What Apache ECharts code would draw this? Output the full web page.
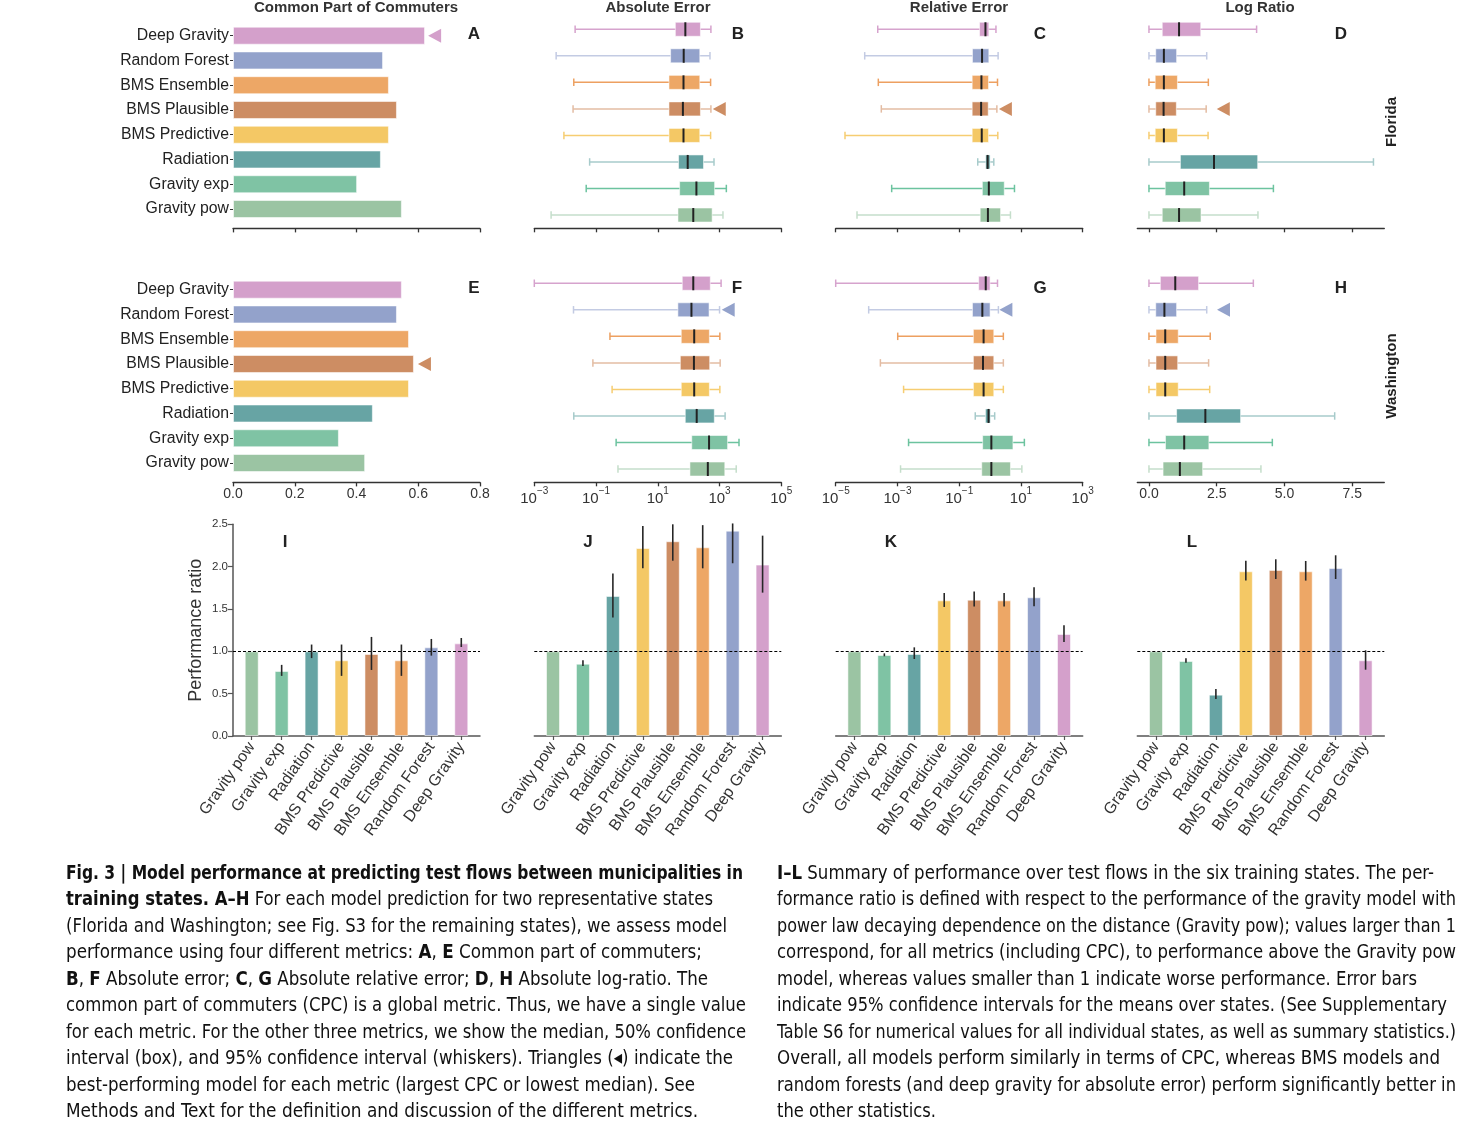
<!DOCTYPE html>
<html><head><meta charset="utf-8">
<script src="https://cdn.jsdelivr.net/npm/echarts@6/dist/echarts.min.js"></script>
<style>html,body{margin:0;padding:0;background:#fff}#c{width:1474px;height:1132px}</style>
</head><body><div id="c"></div>
<script>
// ---------------- DATA ----------------
const models = ['Deep Gravity','Random Forest','BMS Ensemble','BMS Plausible','BMS Predictive','Radiation','Gravity exp','Gravity pow'];
const modelColors = ['#d4a0cb','#93a2cb','#eda766','#cd8d63','#f4c865','#67a4a4','#7fc3a4','#9bc4a3'];
const whiskerColors = ['#d6a3cd','#c3cbe3','#eda061','#e3bca3','#f6cd72','#a7cbcb','#6cc39f','#c5decb'];

// Common part of commuters
const cpcFlorida    = [0.622,0.486,0.505,0.531,0.505,0.479,0.402,0.547];
const cpcWashington = [0.547,0.531,0.570,0.586,0.570,0.453,0.343,0.428];

// [min(2.5%), q1, median, q3, max(97.5%)]
const absErrFlorida = [
  [0.021,37,78,240,525],[0.0051,26,69,229,490],[0.019,23,68,229,513],[0.018,23,65,240,525],
  [0.0091,23,68,229,513],[0.062,47,93,302,661],[0.048,51,178,692,1660],[0.0035,45,141,575,1290]];
const relErrFlorida = [
  [2.3e-4,0.457,0.708,0.912,1.55],[8.7e-5,0.269,0.550,0.912,1.82],[2.4e-4,0.263,0.525,0.891,1.74],
  [3.0e-4,0.263,0.513,0.871,1.66],[2.0e-5,0.263,0.537,0.891,1.78],[0.398,0.724,0.832,1.0,1.32],
  [6.5e-4,0.562,0.912,2.88,6.17],[4.9e-5,0.479,0.851,2.19,4.57]];
const logRatioFlorida = [
  [0,0.49,1.11,1.91,3.97],[0,0.25,0.55,1.02,2.13],[0,0.23,0.55,1.05,2.19],[0,0.25,0.54,1.01,2.11],
  [0,0.23,0.55,1.05,2.18],[0,1.16,2.40,4.01,8.28],[0,0.60,1.30,2.23,4.59],[0,0.49,1.11,1.92,4.02]];
const absErrWashington = [
  [0.001,62,141,501,1122],[0.0186,44.7,123,457,1000],[0.282,57.5,151,468,1023],[0.079,53.7,148,479,1047],
  [0.331,57.5,151,468,1023],[0.019,77.6,182,676,1514],[0.447,126,457,1820,4266],[0.513,110,417,1479,3467]];
const relErrWashington = [
  [1e-5,0.427,0.724,1.0,1.74],[1.17e-4,0.269,0.562,1.0,1.86],[1.02e-3,0.288,0.617,1.32,2.69],
  [2.8e-4,0.288,0.589,1.32,2.69],[1.58e-3,0.288,0.617,1.32,2.69],[0.331,0.708,0.891,1.02,1.41],
  [2.29e-3,0.575,1.10,5.50,12.9],[1.26e-3,0.537,1.10,4.57,10.7]];
const logRatioWashington = [
  [0,0.42,0.97,1.83,3.85],[0,0.25,0.57,1.02,2.13],[0,0.26,0.60,1.08,2.26],[0,0.26,0.60,1.06,2.20],
  [0,0.26,0.60,1.08,2.24],[0,1.02,2.08,3.38,6.85],[0,0.61,1.30,2.21,4.55],[0,0.52,1.14,1.98,4.13]];

// best-performing model (triangle) per metric: index into models, and triangle tip value
const bestModelFlorida    = [0,3,3,3];
const markerTipFlorida    = [0.632,603,1.93,2.5];
const bestModelWashington = [3,1,1,1];
const markerTipWashington = [0.599,1175,2.0,2.51];

// summary panels I-L
const summaryModels = ['Gravity pow','Gravity exp','Radiation','BMS Predictive','BMS Plausible','BMS Ensemble','Random Forest','Deep Gravity'];
const ratioCPC = [1.0,0.768,1.0,0.894,0.969,0.894,1.047,1.094];
const ciCPC    = [null,[0.71,0.84],[0.92,1.08],[0.71,1.08],[0.78,1.17],[0.71,1.08],[0.949,1.146],[1.051,1.157]];
const ratioAbs = [1.0,0.854,1.654,2.22,2.30,2.228,2.425,2.024];
const ciAbs    = [null,[0.827,0.894],[1.40,1.92],[1.98,2.48],[2.07,2.50],[1.98,2.49],[2.04,2.51],[1.693,2.366]];
const ratioRel = [1.0,0.957,0.969,1.602,1.610,1.602,1.638,1.205];
const ciRel    = [null,[0.941,0.976],[0.909,1.047],[1.524,1.689],[1.528,1.705],[1.528,1.689],[1.531,1.756],[1.110,1.307]];
const ratioLog = [1.0,0.886,0.488,1.945,1.961,1.945,1.984,0.894];
const ciLog    = [null,[0.866,0.917],[0.437,0.555],[1.835,2.071],[1.854,2.087],[1.835,2.067],[1.854,2.134],[0.783,1.012]];

const panelTitles = ['Common Part of Commuters','Absolute Error','Relative Error','Log Ratio'];
const logRatioTicks = [0,2.5,5,7.5];
const absTicks = [1e-3,1e-1,1e1,1e3,1e5];
const relTicks = [1e-5,1e-3,1e-1,1e1,1e3];
const ratioTicks = [0,1,2,3,4,5,6,7];

// ---------------- LAYOUT / STYLE ----------------
const FONT = '"Liberation Sans", Arial, Helvetica, sans-serif';
const TXT = '#333';
const colLeft = [233, 534.3, 835.7, 1137.3];
const PW = 247;
const summaryColors = modelColors.slice().reverse();

const chart = echarts.init(document.getElementById('c'), null, {renderer:'canvas', width:1474, height:1132});

const grids = [], xAxes = [], yAxes = [], series = [];

function supFmt(v){
  const e = Math.round(Math.log10(v));
  return '{b|10}{s|' + (e < 0 ? '\u2212' : '') + Math.abs(e) + '}';
}
const supRich = {
  b:{fontSize:15, color:TXT, fontFamily:FONT, lineHeight:20, verticalAlign:'bottom'},
  s:{fontSize:10, color:TXT, fontFamily:FONT, lineHeight:12, verticalAlign:'top'}
};

function makeTopX(gi, kind, showLabel, offset){
  const base = {
    gridIndex:gi, position:'bottom', offset:offset,
    axisLine:{show:true, onZero:false, lineStyle:{color:'#333', width:1.3}},
    axisTick:{show:true, length:4, lineStyle:{color:'#333', width:1.3}},
    splitLine:{show:false},
    axisLabel:{show:showLabel, color:TXT, fontSize:14, fontFamily:FONT, margin:5}
  };
  if (kind === 'cpc') return Object.assign(base, {type:'value', min:0, max:0.8, interval:0.2,
    axisLabel:Object.assign(base.axisLabel, {formatter:v=>v.toFixed(1)})});
  if (kind === 'abs' || kind === 'rel') {
    const ticks = kind === 'abs' ? absTicks : relTicks;
    return Object.assign(base, {type:'log', logBase:10, min:ticks[0], max:ticks[ticks.length-1],
      axisTick:Object.assign(base.axisTick, {customValues:ticks}),
      axisLabel:Object.assign(base.axisLabel, {customValues:ticks, formatter:supFmt, rich:supRich, margin:4})});
  }
  return Object.assign(base, {type:'value', min:-0.43, max:8.68,
    axisTick:Object.assign(base.axisTick, {customValues:logRatioTicks}),
    axisLabel:Object.assign(base.axisLabel, {customValues:logRatioTicks, formatter:v=>v.toFixed(1)})});
}

function boxRender(params, api){
  const cat = api.value(0);
  const pLo = api.coord([api.value(1), cat]);
  const pQ1 = api.coord([api.value(2), cat]);
  const pMd = api.coord([api.value(3), cat]);
  const pQ3 = api.coord([api.value(4), cat]);
  const pHi = api.coord([api.value(5), cat]);
  const y = pLo[1], h = 14, cap = 7.5;
  const wc = whiskerColors[cat], fc = modelColors[cat];
  return {type:'group', children:[
    {type:'line', shape:{x1:pLo[0], y1:y, x2:pHi[0], y2:y}, style:{stroke:wc, lineWidth:1.5}},
    {type:'line', shape:{x1:pLo[0], y1:y-cap/2, x2:pLo[0], y2:y+cap/2}, style:{stroke:wc, lineWidth:1.5}},
    {type:'line', shape:{x1:pHi[0], y1:y-cap/2, x2:pHi[0], y2:y+cap/2}, style:{stroke:wc, lineWidth:1.5}},
    {type:'rect', shape:{x:pQ1[0], y:y-h/2, width:pQ3[0]-pQ1[0], height:h}, style:{fill:fc, stroke:'rgba(255,255,255,0.55)', lineWidth:1}},
    {type:'line', shape:{x1:pMd[0], y1:y-h/2, x2:pMd[0], y2:y+h/2}, style:{stroke:'#222', lineWidth:2}}
  ]};
}
function triRender(params, api){
  const cat = api.value(1);
  const p = api.coord([api.value(0), cat]);
  const w = 13, h = 14;
  return {type:'polygon', shape:{points:[[p[0], p[1]], [p[0]+w, p[1]-h/2], [p[0]+w, p[1]+h/2]]},
    style:{fill:modelColors[cat]}};
}
function errRender(params, api){
  const i = api.value(0);
  const a = api.coord([i, api.value(1)]), b = api.coord([i, api.value(2)]);
  return {type:'line', shape:{x1:a[0], y1:a[1], x2:b[0], y2:b[1]}, style:{stroke:'#262626', lineWidth:1.6}};
}

const rows = [
  {cpc:cpcFlorida, boxes:[absErrFlorida, relErrFlorida, logRatioFlorida], best:bestModelFlorida, tips:markerTipFlorida, barTop:23.3, boxTop:16},
  {cpc:cpcWashington, boxes:[absErrWashington, relErrWashington, logRatioWashington], best:bestModelWashington, tips:markerTipWashington, barTop:277.3, boxTop:270}
];
const kinds = ['cpc','abs','rel','log'];
let gi = 0;
rows.forEach((row, r) => {
  kinds.forEach((kind, c) => {
    const isBar = kind === 'cpc';
    grids.push({left:colLeft[c], width:PW, top:isBar ? row.barTop : row.boxTop, height:isBar ? 198.1 : 212.3, outerBoundsMode:'none'});
    xAxes.push(makeTopX(gi, kind, r === 1, isBar ? 7 : 0));
    yAxes.push({gridIndex:gi, type:'category', data:models, inverse:true,
      axisLine:{show:false, onZero:false},
      axisTick:{show:c === 0, length:3, alignWithLabel:true, lineStyle:{color:'#333'}},
      axisLabel:{show:c === 0, interval:0, color:'#222', fontSize:15.8, fontFamily:FONT, margin:4},
      splitLine:{show:false}});
    if (isBar) {
      series.push({type:'bar', xAxisIndex:gi, yAxisIndex:gi, barWidth:18, silent:true,
        itemStyle:{borderColor:'rgba(255,255,255,0.55)', borderWidth:1},
        data:row.cpc.map((v,i)=>({value:v, itemStyle:{color:modelColors[i]}}))});
    } else {
      series.push({type:'custom', xAxisIndex:gi, yAxisIndex:gi, silent:true, renderItem:boxRender,
        encode:{x:[1,2,3,4,5], y:0},
        data:row.boxes[c-1].map((b,i)=>[i].concat(b))});
    }
    series.push({type:'custom', xAxisIndex:gi, yAxisIndex:gi, silent:true, renderItem:triRender,
      encode:{x:0, y:1}, data:[[row.tips[c], row.best[c]]], z:5});
    gi++;
  });
});

const sumRatios = [ratioCPC, ratioAbs, ratioRel, ratioLog];
const sumCI = [ciCPC, ciAbs, ciRel, ciLog];
for (let c = 0; c < 4; c++) {
  grids.push({left:colLeft[c], width:PW, top:524.3, height:211.7, outerBoundsMode:'none'});
  xAxes.push({gridIndex:gi, type:'value', min:-0.625, max:7.625,
    axisLine:{show:true, onZero:false, lineStyle:{color:'#555', width:1.5}},
    axisTick:{show:true, customValues:ratioTicks, length:4, lineStyle:{color:'#555', width:1.2}},
    axisLabel:{customValues:ratioTicks, formatter:v=>summaryModels[Math.round(v)], rotate:55,
      fontSize:16, color:TXT, fontFamily:FONT, margin:8},
    splitLine:{show:false}});
  yAxes.push({gridIndex:gi, type:'value', min:0, max:2.5, interval:0.5, show:c === 0,
    axisLine:{show:true, onZero:false, lineStyle:{color:'#555', width:1.5}},
    axisTick:{show:true, length:5, lineStyle:{color:'#555', width:1.2}},
    axisLabel:{fontSize:11.5, color:TXT, fontFamily:FONT, margin:5, formatter:v=>v.toFixed(1)},
    splitLine:{show:false},
    name:'Performance ratio', nameLocation:'middle', nameGap:28,
    nameTextStyle:{fontSize:18, color:TXT, fontFamily:FONT}});
  series.push({type:'bar', xAxisIndex:gi, yAxisIndex:gi, barWidth:14, silent:true,
    itemStyle:{borderColor:'rgba(255,255,255,0.55)', borderWidth:1},
    data:sumRatios[c].map((v,i)=>({value:[i,v], itemStyle:{color:summaryColors[i]}})),
    markLine:{silent:true, symbol:['none','none'], label:{show:false},
      lineStyle:{color:'#000', type:[3,2], width:1}, data:[{yAxis:1}]}});
  series.push({type:'custom', xAxisIndex:gi, yAxisIndex:gi, silent:true, renderItem:errRender,
    encode:{x:0, y:[1,2]}, z:5,
    data:sumCI[c].map((ci,i)=>ci ? [i, ci[0], ci[1]] : null).filter(d=>d)});
  gi++;
}

// ---------------- TEXT ----------------
const graphics = [];
const titleX = [356, 658, 959, 1260];
panelTitles.forEach((t,i)=>graphics.push({type:'text', x:titleX[i], y:8, silent:true,
  style:{text:t, fontSize:15, fontWeight:'bold', fontFamily:FONT, fill:'#333', align:'center', verticalAlign:'middle'}}));
const letters = [['A',474,34],['B',738,34],['C',1040,34],['D',1341,34],['E',474,288],['F',737,288],['G',1040,288],['H',1341,288],
  ['I',285,542],['J',588,542],['K',891,542],['L',1192,542]];
letters.forEach(([t,x,y])=>graphics.push({type:'text', x, y, silent:true,
  style:{text:t, fontSize:17, fontWeight:'bold', fontFamily:FONT, fill:'#222', align:'center', verticalAlign:'middle'}}));
[['Florida',122],['Washington',376]].forEach(([t,y])=>graphics.push({type:'text', x:1392, y, rotation:Math.PI/2, silent:true,
  style:{text:t, fontSize:15, fontWeight:'bold', fontFamily:FONT, fill:'#222', align:'center', verticalAlign:'middle'}}));

const CAP_FONT = '"Liberation Sans Narrow", "DejaVu Sans Condensed", "Liberation Sans", sans-serif';
const CAP_SIZE = 20;
const capY = [872, 898.5, 925, 951.5, 978, 1004.5, 1031, 1057.5, 1084, 1110.5];
const captionLeft = [
  [['Fig. 3 | Model performance at predicting test flows between municipalities in',1]],
  [['training states. A\u2013H',1],[' For each model prediction for two representative states',0]],
  [['(Florida and Washington; see Fig. S3 for the remaining states), we assess model',0]],
  [['performance using four different metrics: ',0],['A',1],[', ',0],['E',1],[' Common part of commuters;',0]],
  [['B',1],[', ',0],['F',1],[' Absolute error; ',0],['C',1],[', ',0],['G',1],[' Absolute relative error; ',0],['D',1],[', ',0],['H',1],[' Absolute log-ratio. The',0]],
  [['common part of commuters (CPC) is a global metric. Thus, we have a single value',0]],
  [['for each metric. For the other three metrics, we show the median, 50% confidence',0]],
  [['interval (box), and 95% confidence interval (whiskers). Triangles (\u25C2) indicate the',0]],
  [['best-performing model for each metric (largest CPC or lowest median). See',0]],
  [['Methods and Text for the definition and discussion of the different metrics.',0]]
];
const captionRight = [
  [['I\u2013L',1],[' Summary of performance over test flows in the six training states. The per-',0]],
  [['formance ratio is defined with respect to the performance of the gravity model with',0]],
  [['power law decaying dependence on the distance (Gravity pow); values larger than 1',0]],
  [['correspond, for all metrics (including CPC), to performance above the Gravity pow',0]],
  [['model, whereas values smaller than 1 indicate worse performance. Error bars',0]],
  [['indicate 95% confidence intervals for the means over states. (See Supplementary',0]],
  [['Table S6 for numerical values for all individual states, as well as summary statistics.)',0]],
  [['Overall, all models perform similarly in terms of CPC, whereas BMS models and',0]],
  [['random forests (and deep gravity for absolute error) perform significantly better in',0]],
  [['the other statistics.',0]]
];
const captionCols = [
  {x:66, lines:captionLeft, ends:[743,713,727,702,708,746,746,733,695,698]},
  {x:777, lines:captionRight, ends:[1434,1456,1456,1456,1417,1447,1456,1440,1456,936]}
];
const mctx = document.createElement('canvas').getContext('2d');
function segW(t,b){ mctx.font = (b ? 'bold ' : '') + CAP_SIZE + 'px ' + CAP_FONT; return mctx.measureText(t).width; }
const capRich = {
  b:{fontWeight:'bold', fontSize:CAP_SIZE, fontFamily:CAP_FONT, fill:'#111'},
  r:{fontWeight:'normal', fontSize:CAP_SIZE, fontFamily:CAP_FONT, fill:'#111'}
};
captionCols.forEach(col => col.lines.forEach((segs,k) => {
  const text = segs.map(([t,b]) => '{' + (b ? 'b' : 'r') + '|' + t + '}').join('');
  const w = segs.reduce((s,[t,b]) => s + segW(t,b), 0);
  graphics.push({type:'text', x:col.x, y:capY[k] + 1.5, scaleX:(col.ends[k]-col.x)/w, silent:true,
    style:{text, rich:capRich, fontSize:CAP_SIZE, fontFamily:CAP_FONT, fill:'#111', align:'left', verticalAlign:'middle'}});
}));

chart.setOption({
  animation:false,
  backgroundColor:'#fff',
  textStyle:{fontFamily:FONT},
  grid:grids, xAxis:xAxes, yAxis:yAxes, series:series,
  graphic:{elements:graphics}
});
</script></body></html>
